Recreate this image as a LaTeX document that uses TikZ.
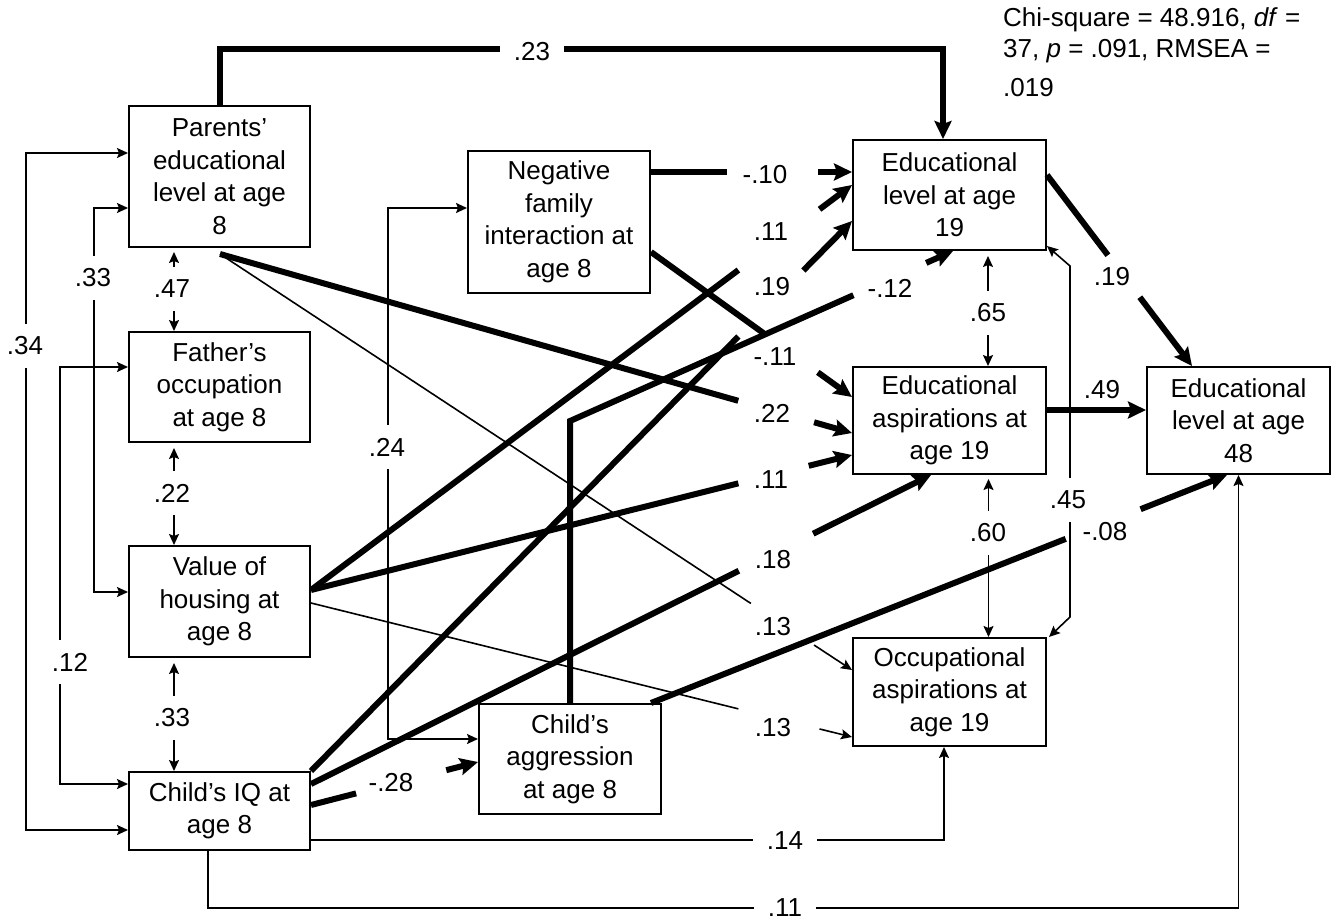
\documentclass[tikz,border=0pt]{standalone}
\usepackage{fontspec}
\setmainfont{Liberation Sans}
\usetikzlibrary{arrows.meta}
\usetikzlibrary{calc}

\begin{document}
\begin{tikzpicture}
     [x=1pt,y=-1pt,
      % Styles
        var/.style={draw,line width=2pt,inner sep=0pt,align=center,font=\fontsize{26}{32.5}\selectfont},
        coef/.style={inner sep=0pt,font=\fontsize{26}{32.5}\selectfont},
        vgap/.style={coef,fill=white,inner xsep=3pt,inner ysep=13pt},
        hgap/.style={coef,fill=white,inner xsep=14pt,inner ysep=3pt},
        heavy/.style={line width=6pt},
        light/.style={line width=1.6pt},
        heavy tip/.style={-{Stealth[length=18pt,width=17pt,inset=3pt]}},
        light tip/.style={-{Stealth[length=11pt,width=10pt,inset=2pt]}},
        light tips/.style={{Stealth[length=11pt,width=10pt,inset=2pt]}-{Stealth[length=11pt,width=10pt,inset=2pt]}}]
    \useasboundingbox (0,0) rectangle (1339,923);
    % age 8 variables
    \node[var,minimum width=181pt,minimum height=141pt] (par) at (219.5,176.5) {Parents’\\educational\\level at age\\8};
    \node[var,minimum width=181pt,minimum height=110pt] (fat) at (219.5,387) {Father’s\\occupation\\at age 8};
    \node[var,minimum width=181pt,minimum height=111pt] (hou) at (219.5,601.5) {Value of\\housing at\\age 8};
    \node[var,minimum width=181pt,minimum height=78pt] (iq) at (219.5,811) {Child’s IQ at\\age 8};
    \node[var,minimum width=182pt,minimum height=142pt] (neg) at (559,222) {Negative\\family\\interaction at\\age 8};
    \node[var,minimum width=182pt,minimum height=110pt] (agg) at (570,759) {Child’s\\aggression\\at age 8};
    % age 19 and 48 variables
    \node[var,minimum width=193pt,minimum height=110pt] (e19) at (949.5,195) {Educational\\level at age\\19};
    \node[var,minimum width=193pt,minimum height=107pt] (asp) at (949.5,420.5) {Educational\\aspirations at\\age 19};
    \node[var,minimum width=193pt,minimum height=108pt] (occ) at (949.5,692) {Occupational\\aspirations at\\age 19};
    \node[var,minimum width=183pt,minimum height=107pt] (e48) at (1238.5,420.5) {Educational\\level at age\\48};

    % fit of the model
    \node[coef,anchor=base west] (fit1) at (1003,27) {Chi-square = 48.916, \textit{df} =};
    \node[coef,anchor=base west] (fit2) at (1003,58) {37, \textit{p} = .091, RMSEA =};
    \node[coef,anchor=base west] (fit3) at (1003,97) {.019};

    % end points of the paths
    \coordinate (par-s) at ($(par.south)+(0.5,6)$);
    \coordinate (hou-e1) at ($(hou.east)+(0,-11.5)$);
    \coordinate (hou-e2) at ($(hou.east)+(0,1.5)$);
    \coordinate (iq-e1) at (iq.north east);
    \coordinate (iq-e2) at ($(iq.north east)+(0,13)$);
    \coordinate (iq-e3) at ($(iq.east)+(0,-6)$);
    \coordinate (neg-e1) at ($(neg.north east)+(0,22)$);
    \coordinate (neg-e2) at ($(neg.east)+(0,30)$);
    \coordinate (agg-ne) at ($(agg.north east)+(-11,0)$);
    \coordinate (bend) at ($(agg.north)+(0,-282)$);
    \coordinate (e19-e) at ($(e19.east)+(0,-20)$);
    \coordinate (e19-a) at ($(e19.north west)+(0,33)$);
    \coordinate (e19-b) at ($(e19.north west)+(0,46)$);
    \coordinate (e19-c) at ($(e19.north west)+(0,82)$);
    \coordinate (e19-d) at ($(e19.south)+(3.5,0)$);
    \coordinate (asp-a) at ($(asp.west)+(0,-23.5)$);
    \coordinate (asp-b) at ($(asp.west)+(0,12.5)$);
    \coordinate (asp-c) at ($(asp.west)+(0,34.5)$);
    \coordinate (asp-d) at ($(asp.south west)+(79,0)$);
    \coordinate (occ-a) at ($(occ.west)+(0,-22)$);
    \coordinate (occ-b) at ($(occ.west)+(0,45)$);
    \coordinate (agg-w) at ($(agg.west)+(0,3)$);
    \coordinate (e48-n) at ($(e48.north)+(-46.5,0)$);
    \coordinate (e48-s) at ($(e48.south)+(-11.5,0)$);

    % correlations
    \draw[light,light tips] ($(iq.west)+(0,19)$) -- ++(-102,0) |- ($(par.west)+(0,-23.5)$);
    \draw[light,light tips] ($(hou.west)+(0,-9.5)$) -- ++(-34,0) |- ($(par.west)+(0,31.5)$);
    \draw[light,light tips] ($(iq.west)+(0,-27)$) -- ++(-68,0) |- ($(fat.west)+(0,-20)$);
    \draw[light,light tips] ($(par.south)+(-45.5,4)$) -- ($(fat.north)+(-45.5,0)$);
    \draw[light,light tips] ($(fat.south)+(-45.5,5)$) -- ($(hou.north)+(-45.5,0)$);
    \draw[light,light tips] ($(hou.south)+(-45.5,5)$) -- ($(iq.north)+(-45.5,0)$);
    \draw[light,light tips] ($(neg.west)+(0,-14)$) -- ++(-79,0) |- ($(agg.west)+(0,-20)$);
    \draw[light,light tips] ($(e19.south)+(38.5,5)$) -- ($(asp.north)+(38.5,0)$);
    \draw[light,light tips] ($(asp.south)+(39,4)$) -- ($(occ.north)+(39,0)$);
    \draw[light,light tips] ($(e19.south east)+(0,-5)$) -- ++(23,20) -- ($(occ.north east)+(23,-20)$) -- ($(occ.north east)+(2,0)$);

    % paths without a break
    \draw[light,light tip] ($(iq.east)+(0,29)$) -| ($(occ.south)+(-5.5,0)$);
    \draw[light,light tip] ($(iq.south)+(-11.5,0)$) -- ++(0,57) -| (e48.south);
    \draw[heavy,heavy tip] (par.north) -- ++(0,-56) -| ($(e19.north)+(-6.5,0)$);
    \draw[heavy,heavy tip] ($(asp.east)+(0,-10.5)$) -- ($(e48.west)+(0,-10.5)$);

    % paths broken by their coefficient
    \draw[heavy] (neg-e1) -- ($(neg-e1)!0.38!(e19-a)$);
    \draw[heavy,heavy tip] ($(neg-e1)!0.83!(e19-a)$) -- (e19-a);
    \draw[heavy] (hou-e1) -- ($(hou-e1)!0.79!(e19-b)$);
    \draw[heavy,heavy tip] ($(hou-e1)!0.94!(e19-b)$) -- (e19-b);
    \draw[heavy] (iq-e1) -- ($(iq-e1)!0.79!(e19-c)$);
    \draw[heavy,heavy tip] ($(iq-e1)!0.91!(e19-c)$) -- (e19-c);
    \draw[heavy] (agg.north) -- (bend) -- ($(bend)!0.74!(e19-d)$);
    \draw[heavy,heavy tip] ($(bend)!0.93!(e19-d)$) -- (e19-d);
    \draw[heavy] (neg-e2) -- ($(neg-e2)!0.56!(asp-a)$);
    \draw[heavy,heavy tip] ($(neg-e2)!0.83!(asp-a)$) -- (asp-a);
    \draw[heavy] (par-s) -- ($(par-s)!0.82!(asp-b)$);
    \draw[heavy,heavy tip] ($(par-s)!0.94!(asp-b)$) -- (asp-b);
    \draw[heavy] (hou-e1) -- ($(hou-e1)!0.79!(asp-c)$);
    \draw[heavy,heavy tip] ($(hou-e1)!0.92!(asp-c)$) -- (asp-c);
    \draw[heavy] (iq-e2) -- ($(iq-e2)!0.69!(asp-d)$);
    \draw[heavy,heavy tip] ($(iq-e2)!0.81!(asp-d)$) -- (asp-d);
    \draw[light] (par-s) -- ($(par-s)!0.84!(occ-a)$);
    \draw[light,light tip] ($(par-s)!0.94!(occ-a)$) -- (occ-a);
    \draw[light] (hou-e2) -- ($(hou-e2)!0.79!(occ-b)$);
    \draw[light,light tip] ($(hou-e2)!0.94!(occ-b)$) -- (occ-b);
    \draw[heavy] (iq-e3) -- ($(iq-e3)!0.27!(agg-w)$);
    \draw[heavy,heavy tip] ($(iq-e3)!0.81!(agg-w)$) -- (agg-w);
    \draw[heavy] (agg-ne) -- ($(agg-ne)!0.72!(e48-s)$);
    \draw[heavy,heavy tip] ($(agg-ne)!0.85!(e48-s)$) -- (e48-s);
    \draw[heavy] (e19-e) -- ($(e19-e)!0.42!(e48-n)$);
    \draw[heavy,heavy tip] ($(e19-e)!0.64!(e48-n)$) -- (e48-n);

    % coefficients
    \node[vgap] (c34) at (25,346) {.34};
    \node[vgap] (c33a) at (93,278) {.33};
    \node[vgap] (c12) at (70,662) {.12};
    \node[vgap] (c47) at (172,289) {.47};
    \node[vgap] (c22a) at (172,493) {.22};
    \node[vgap] (c33b) at (172,718) {.33};
    \node[vgap] (c24) at (387,447) {.24};
    \node[vgap] (c65) at (988,313) {.65};
    \node[vgap] (c60) at (988,533) {.60};
    \node[vgap] (c45) at (1068,500) {.45};
    \node[hgap] (c23) at (532,52) {.23};
    \node[hgap] (c14) at (785,841) {.14};
    \node[hgap] (c11d) at (785,908) {.11};
    \node[coef] (c10) at (765,175) {-.10};
    \node[coef] (c11a) at (771,232) {.11};
    \node[coef] (c19a) at (772,287) {.19};
    \node[coef] (c11b) at (775,357) {-.11};
    \node[coef] (c22b) at (772,413) {.22};
    \node[coef] (c11c) at (771,480) {.11};
    \node[coef] (c18) at (773,560) {.18};
    \node[coef] (c13a) at (773,627) {.13};
    \node[coef] (c13b) at (773,728) {.13};
    \node[coef] (c28) at (391,783) {-.28};
    \node[coef] (c12b) at (890,288) {-.12};
    \node[coef] (c19b) at (1112,277) {.19};
    \node[coef] (c49) at (1102,390) {.49};
    \node[coef] (c08) at (1105,532) {-.08};
  \end{tikzpicture}
\end{document}
